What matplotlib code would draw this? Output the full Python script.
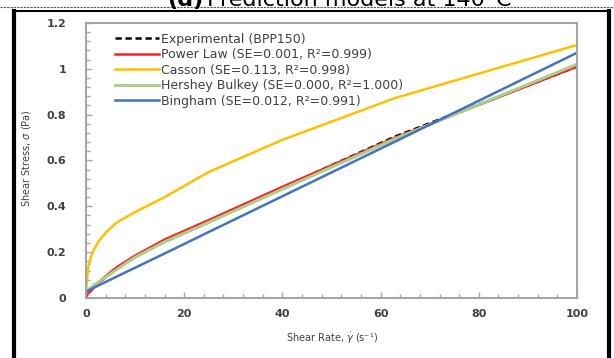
import matplotlib
matplotlib.use('Agg')
import matplotlib.pyplot as plt
from matplotlib.lines import Line2D
from matplotlib.ticker import MultipleLocator

# shear rate points (1/s)
rate = [0, 0.4, 1, 1.6, 2.5, 4, 6.3, 10, 16, 25, 40, 63, 100]

# shear stress (Pa)
experimental = [0.01, 0.03, 0.04, 0.05, 0.065, 0.09, 0.13, 0.18, 0.245, 0.33, 0.482, 0.705, 1.01]
power_law = [0.0, 0.02, 0.03, 0.045, 0.065, 0.095, 0.135, 0.185, 0.255, 0.34, 0.485, 0.70, 1.01]
casson = [0.03, 0.13, 0.18, 0.21, 0.245, 0.285, 0.33, 0.375, 0.44, 0.55, 0.69, 0.873, 1.104]
hershey = [0.026, 0.035, 0.045, 0.055, 0.07, 0.09, 0.125, 0.178, 0.245, 0.33, 0.475, 0.695, 1.02]
bingham = [0.028, 0.032, 0.038, 0.045, 0.054, 0.07, 0.094, 0.132, 0.194, 0.288, 0.444, 0.683, 1.07]

labels = ['Experimental (BPP150)',
          'Power Law (SE=0.001, R²=0.999)',
          'Casson (SE=0.113, R²=0.998)',
          'Hershey Bulkey (SE=0.000, R²=1.000)',
          'Bingham (SE=0.012, R²=0.991)']

fig = plt.figure(figsize=(6.14, 3.58), dpi=100)
ax = fig.add_axes([86/614, 1-298/358, 491/614, 275/358])

ax.plot(rate, experimental, color='black', ls=(0, (2.5, 1.5)), lw=1.8, label=labels[0])
ax.plot(rate, power_law, color='#FF2020', lw=1.8, label=labels[1])
ax.plot(rate, casson, color='#FFC000', lw=1.8, label=labels[2])
ax.plot(rate, hershey, color='#A9D18E', lw=2.2, label=labels[3])
ax.plot(rate, bingham, color='#4472C4', lw=1.8, label=labels[4])

ax.set_xlim(0, 100)
ax.set_ylim(0, 1.2)
ax.xaxis.set_major_locator(MultipleLocator(20))
ax.xaxis.set_minor_locator(MultipleLocator(4))
ax.yaxis.set_major_locator(MultipleLocator(0.2))
ax.yaxis.set_minor_locator(MultipleLocator(0.04))
ax.set_yticks([0, 0.2, 0.4, 0.6, 0.8, 1.0, 1.2])
ax.set_yticklabels(['0', '0.2', '0.4', '0.6', '0.8', '1', '1.2'])

for s in ax.spines.values():
    s.set_color('#A6A6A6')
    s.set_linewidth(1.5)
ax.tick_params(which='both', direction='in', color='#A6A6A6', width=1)
ax.tick_params(which='major', length=4)
ax.tick_params(which='minor', length=3)
ax.tick_params(axis='y', which='major', pad=14)
ax.tick_params(axis='x', which='major', pad=8)
for t in ax.get_xticklabels() + ax.get_yticklabels():
    t.set_fontsize(8)
    t.set_fontweight('bold')
    t.set_color('#404040')

ax.set_xlabel('Shear Rate, $\\dot{\\gamma}$ (s⁻¹)', fontsize=7, color='#404040')
ax.set_ylabel('Shear Stress, $\\sigma$ (Pa)', fontsize=7, color='#404040')
ax.xaxis.set_label_coords(0.5, -0.12)
ax.yaxis.set_label_coords(-0.108, 0.51)

leg = ax.legend(loc='upper left', bbox_to_anchor=(0.059, 0.965), frameon=False,
                fontsize=9, borderpad=0, borderaxespad=0, handlelength=3.5,
                handletextpad=0.2, labelspacing=0.2)
for t in leg.get_texts():
    t.set_color('#404040')

# page frame and the caption that is cut off above the chart
fig.add_artist(Line2D([0, 1], [1-7/358, 1-7/358], color='#555555', lw=0.8, ls=(0, (2, 1))))
fig.add_artist(Line2D([14/614, 609/614], [1-11/358, 1-11/358], color='black', lw=1.5))
fig.add_artist(Line2D([14/614, 14/614], [0, 1-11/358], color='black', lw=3))
fig.add_artist(Line2D([609/614, 609/614], [0, 1-11/358], color='black', lw=3))
fig.text(203/614, 1-6/358, '(d)', fontsize=16, fontweight='bold', ha='right', va='baseline')
fig.text(207/614, 1-6/358, 'Prediction models at 140°C', fontsize=16, ha='left', va='baseline')

fig.savefig('out.png', dpi=100)
